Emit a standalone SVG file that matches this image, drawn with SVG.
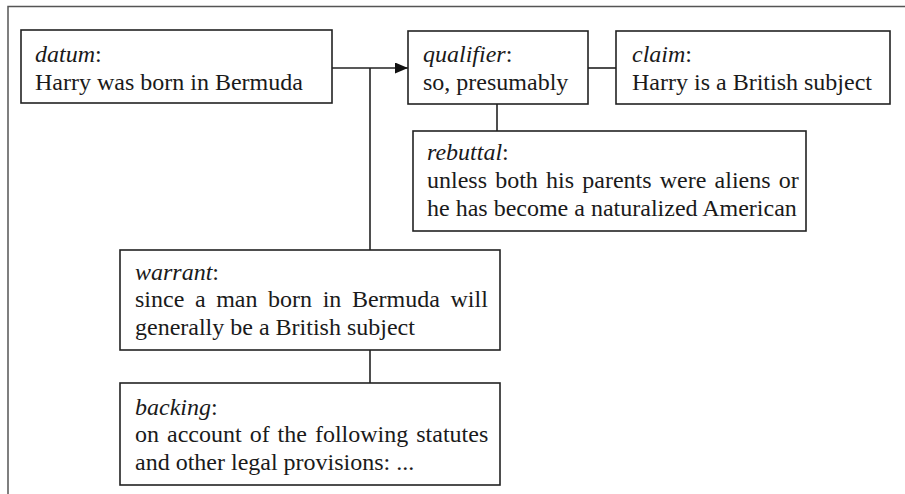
<svg xmlns="http://www.w3.org/2000/svg" width="905" height="494" viewBox="0 0 905 494">
<style>
.box{fill:#fff;stroke:#222;stroke-width:1.6}
.t{font-family:"Liberation Serif","Times New Roman",serif;font-size:24px;fill:#1a1a1a}
.i{font-style:italic}
.c{stroke:#222;stroke-width:1.6;fill:none}
.frame{stroke:#555;stroke-width:1.5;fill:none}
</style>
<defs>
<marker id="ah" markerWidth="13" markerHeight="11" refX="13" refY="5.5" orient="auto" markerUnits="userSpaceOnUse">
<path d="M0,0 L13,5.5 L0,11 Z" fill="#111"/>
</marker>
</defs>
<rect width="905" height="494" fill="#fff"/>
<path class="frame" d="M905,6.5 H8 V494"/>
<g id="connectors">
<path class="c" d="M332,68 H408" marker-end="url(#ah)"/>
<path class="c" d="M370,68 V250"/>
<path class="c" d="M588,68 H616"/>
<path class="c" d="M497,104 V131"/>
<path class="c" d="M370,350 V383"/>
</g>
<g id="datum">
<rect class="box" x="21" y="30" width="311" height="73"/>
<text class="t" x="35" y="62"><tspan class="i">datum</tspan>:</text>
<text class="t" x="35" y="90">Harry was born in Bermuda</text>
</g>
<g id="qualifier">
<rect class="box" x="408" y="31" width="180" height="73"/>
<text class="t" x="423" y="62"><tspan class="i">qualifier</tspan>:</text>
<text class="t" x="423" y="90">so, presumably</text>
</g>
<g id="claim">
<rect class="box" x="616" y="31" width="274" height="73"/>
<text class="t" x="632" y="62"><tspan class="i">claim</tspan>:</text>
<text class="t" x="632" y="90">Harry is a British subject</text>
</g>
<g id="rebuttal">
<rect class="box" x="413" y="131" width="393" height="100"/>
<text class="t" x="427" y="160"><tspan class="i">rebuttal</tspan>:</text>
<text class="t" x="427" y="188" word-spacing="2.2">unless both his parents were aliens or</text>
<text class="t" x="427" y="216">he has become a naturalized American</text>
</g>
<g id="warrant">
<rect class="box" x="120" y="250" width="380" height="100"/>
<text class="t" x="135" y="280"><tspan class="i">warrant</tspan>:</text>
<text class="t" x="135" y="307" word-spacing="4.6">since a man born in Bermuda will</text>
<text class="t" x="135" y="335">generally be a British subject</text>
</g>
<g id="backing">
<rect class="box" x="120" y="383" width="380" height="102"/>
<text class="t" x="135" y="415"><tspan class="i">backing</tspan>:</text>
<text class="t" x="135" y="442" word-spacing="2">on account of the following statutes</text>
<text class="t" x="135" y="470">and other legal provisions: ...</text>
</g>
</svg>
